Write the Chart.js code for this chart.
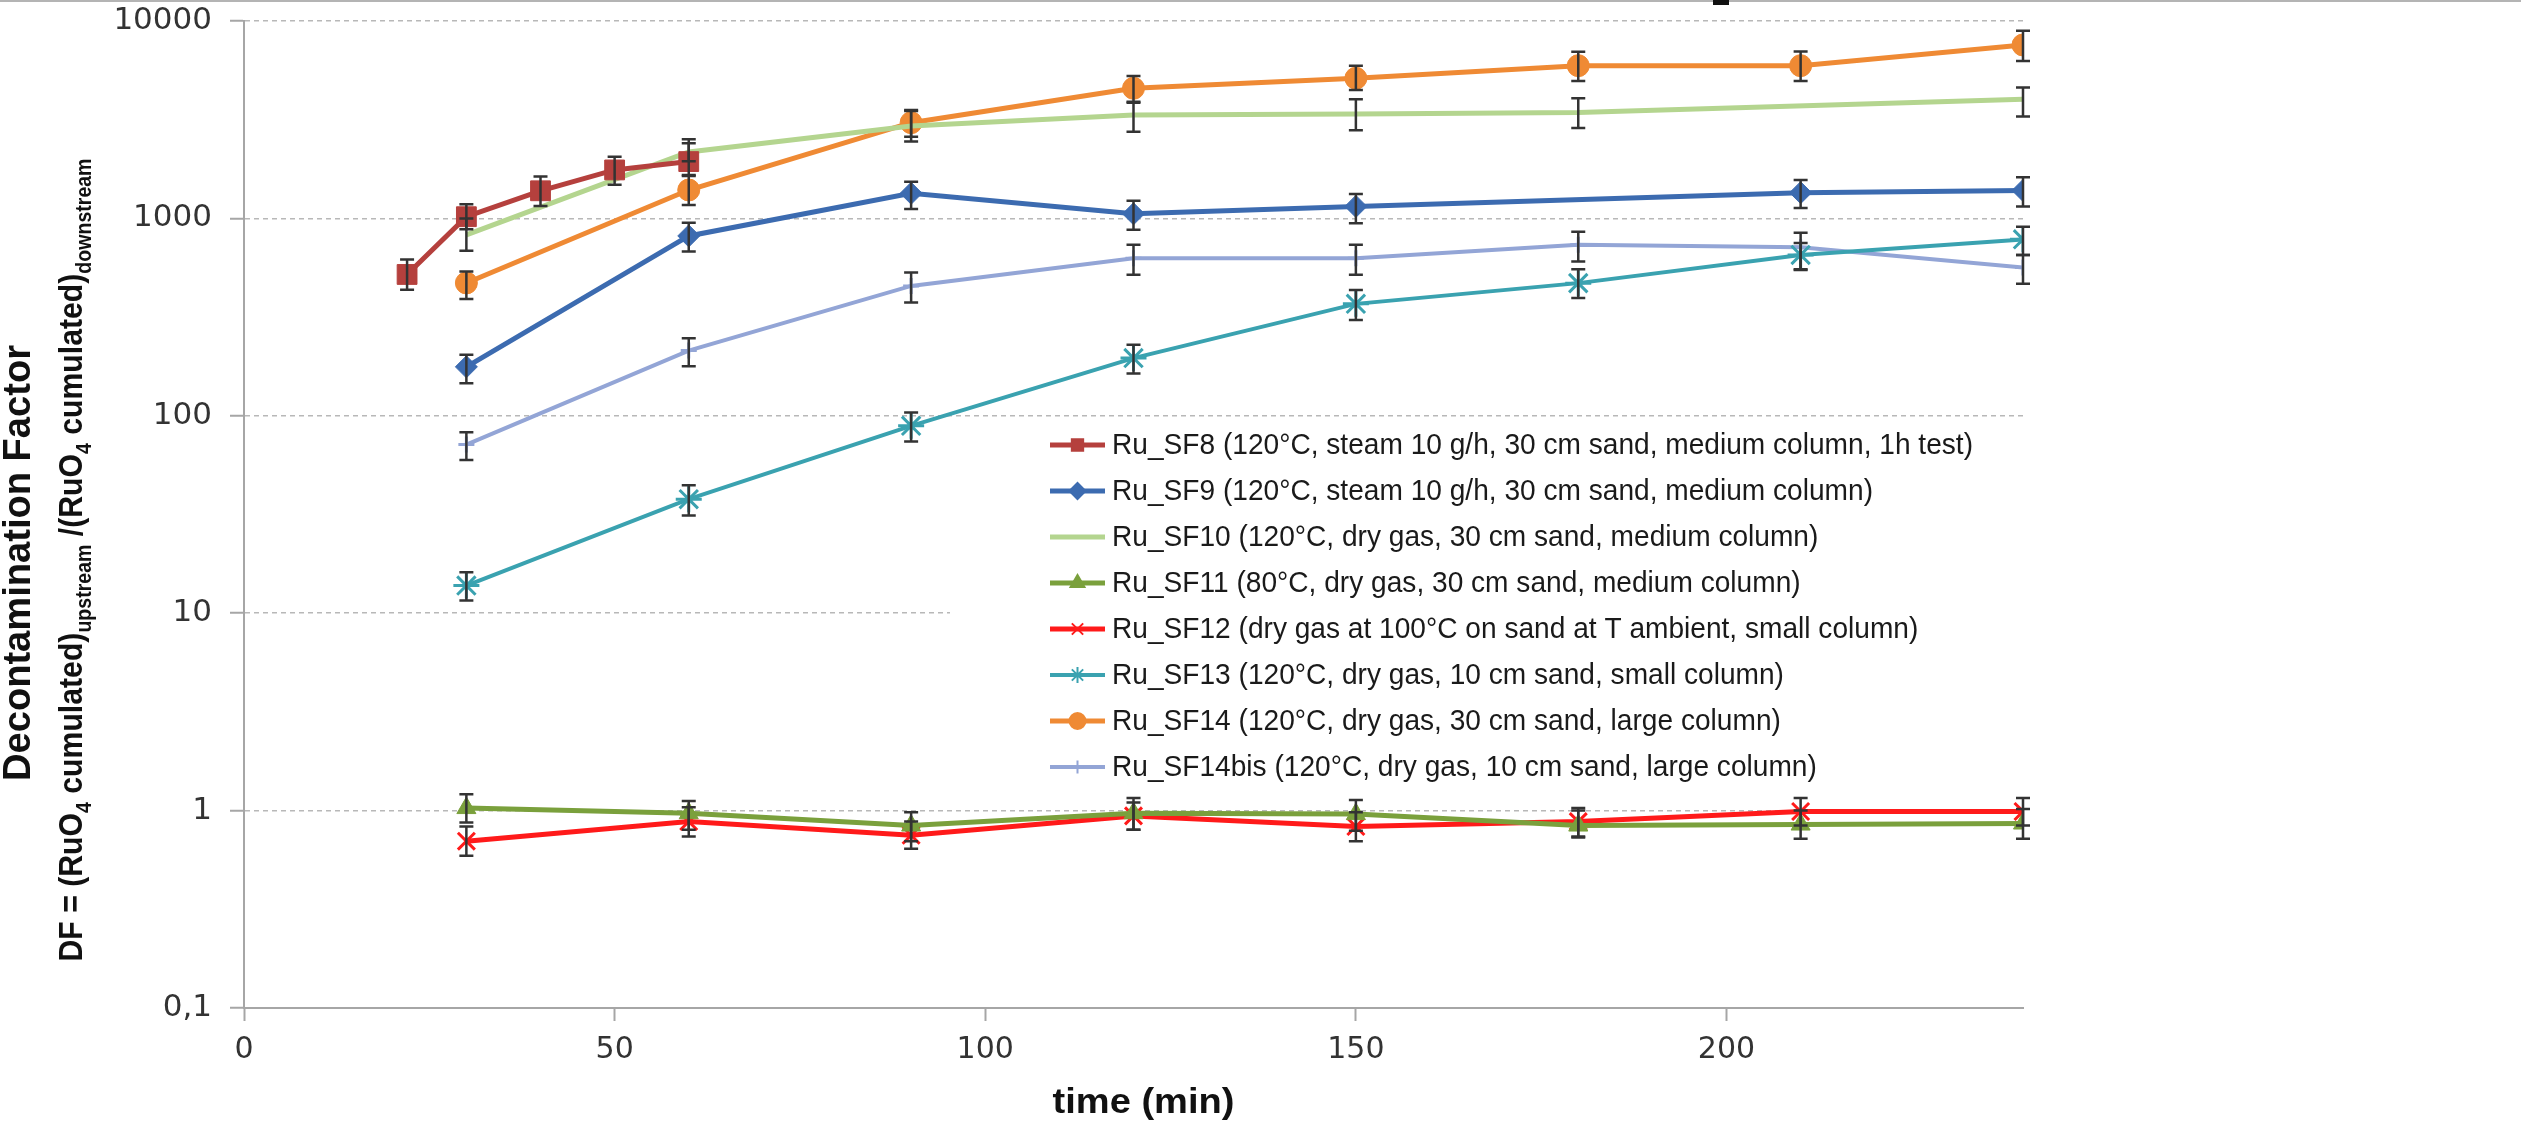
<!DOCTYPE html>
<html>
<head>
<meta charset="utf-8">
<title>Decontamination Factor vs time</title>
<script src="https://cdn.jsdelivr.net/npm/chart.js@4.4.0/dist/chart.umd.min.js"></script>
<style>
    html, body { margin: 0; padding: 0; background: #fff; }
    #wrap { position: relative; width: 2521px; height: 1125px; }
    #wrap canvas { display: block; }
    #topLine { position: absolute; left: 0; top: 0; width: 2521px; height: 2px; background: #b4b4b4; }
    #topMark { position: absolute; left: 1713px; top: 0; width: 16px; height: 5px; background: #111; }
</style>
</head>
<body>
<div id="wrap">
    <canvas id="dfChart" width="2521" height="1125"></canvas>
    <div id="topLine"></div>
    <div id="topMark"></div>
</div>
<script>
// =====================
// Data
// =====================
const timeSF8 = [22, 30, 40, 50, 60];
const dfSF8 = [520, 1020, 1380, 1760, 1940];
const loSF8 = [435, 880, 1155, 1480, 1660];
const hiSF8 = [620, 1180, 1630, 2055, 2520];

const timeSF9 = [30, 60, 90, 120, 150, 210, 240];
const dfSF9 = [177, 815, 1340, 1055, 1150, 1350, 1385];
const loSF9 = [146, 680, 1115, 875, 946, 1128, 1148];
const hiSF9 = [204, 950, 1535, 1227, 1330, 1567, 1617];

const timeSF10 = [30, 60, 90, 120, 150, 180, 240];
const dfSF10 = [825, 2170, 2940, 3340, 3380, 3440, 4020];
const loSF10 = [685, 1950, 2450, 2750, 2800, 2870, 3280];
const hiSF10 = [1000, 2400, 3500, 3850, 4020, 4060, 4610];

const timeSF11 = [30, 60, 90, 120, 150, 180, 210, 240];
const dfSF11 = [1.03, 0.97, 0.84, 0.97, 0.96, 0.84, 0.85, 0.86];
const loSF11 = [0.87, 0.80, 0.70, 0.80, 0.79, 0.73, 0.72, 0.72];
const hiSF11 = [1.21, 1.12, 0.98, 1.16, 1.13, 1.00, 1.00, 1.02];

const timeSF12 = [30, 60, 90, 120, 150, 180, 210, 240];
const dfSF12 = [0.70, 0.88, 0.75, 0.94, 0.83, 0.88, 0.99, 0.99];
const loSF12 = [0.59, 0.74, 0.64, 0.80, 0.70, 0.74, 0.84, 0.84];
const hiSF12 = [0.83, 1.04, 0.88, 1.10, 0.98, 1.03, 1.16, 1.16];

const timeSF13 = [30, 60, 90, 120, 150, 180, 210, 240];
const dfSF13 = [13.8, 37.8, 89, 196, 369, 470, 653, 783];
const loSF13 = [11.6, 31.3, 74, 164, 306, 395, 548, 653];
const hiSF13 = [16.1, 44.5, 104, 229, 434, 553, 751, 907];

const timeSF14 = [30, 60, 90, 120, 150, 180, 210, 240];
const dfSF14 = [471, 1393, 3055, 4560, 5130, 5940, 5940, 7560];
const loSF14 = [390, 1170, 2590, 3900, 4470, 4970, 4970, 6270];
const hiSF14 = [538, 1640, 3540, 5270, 5940, 6990, 7000, 8930];

const timeSF14bis = [30, 60, 90, 120, 150, 180, 210, 240];
const dfSF14bis = [71.5, 214, 455, 629, 629, 735, 715, 564];
const loSF14bis = [59.8, 178, 375, 518, 518, 604, 553, 466];
const hiSF14bis = [82.6, 247, 532, 735, 735, 857, 847, 653];

const seriesLabels = [
    'Ru_SF8 (120°C, steam 10 g/h, 30 cm sand, medium column, 1h test)',
    'Ru_SF9 (120°C, steam 10 g/h, 30 cm sand, medium column)',
    'Ru_SF10 (120°C, dry gas, 30 cm sand, medium column)',
    'Ru_SF11 (80°C, dry gas, 30 cm sand, medium column)',
    'Ru_SF12 (dry gas at 100°C on sand at T ambient, small column)',
    'Ru_SF13 (120°C, dry gas, 10 cm sand, small column)',
    'Ru_SF14 (120°C, dry gas, 30 cm sand, large column)',
    'Ru_SF14bis (120°C, dry gas, 10 cm sand, large column)'
];

const yTicks = [0.1, 1, 10, 100, 1000, 10000];
const xMin = 0, xMax = 240, xStep = 50;

// style per series (same order as labels)
const seriesStyle = [
    { color: '#b5403d', marker: 'rect',     radius: 14, width: 5 },
    { color: '#3c6bb0', marker: 'rectRot',  radius: 11, width: 5 },
    { color: '#b4d58f', marker: false,      radius: 0,  width: 5 },
    { color: '#7aa03c', marker: 'triangle', radius: 11, width: 5 },
    { color: '#ff1a1a', marker: 'crossRot', radius: 12, width: 5 },
    { color: '#3aa2b0', marker: 'star',     radius: 13, width: 4 },
    { color: '#ef8a34', marker: 'circle',   radius: 11, width: 5 },
    { color: '#93a5d6', marker: 'cross',    radius: 8,  width: 4 }
];

const seriesData = [
    [timeSF8, dfSF8, loSF8, hiSF8],
    [timeSF9, dfSF9, loSF9, hiSF9],
    [timeSF10, dfSF10, loSF10, hiSF10],
    [timeSF11, dfSF11, loSF11, hiSF11],
    [timeSF12, dfSF12, loSF12, hiSF12],
    [timeSF13, dfSF13, loSF13, hiSF13],
    [timeSF14, dfSF14, loSF14, hiSF14],
    [timeSF14bis, dfSF14bis, loSF14bis, hiSF14bis]
];

// =====================
// Helpers
// =====================
const LEG = { boxLeft: 950, boxTop: 421, boxBottom: 794, lineX0: 1050, lineX1: 1105, textX: 1112, row0: 445, rowGap: 46, textWidth: 861 };

// draw a run of text segments (with optional subscripts) squeezed to a given length
function drawFitted(ctx, segs, length) {
    let total = 0;
    segs.forEach(s => { ctx.font = s.font; total += ctx.measureText(s.t).width; });
    ctx.save();
    ctx.scale(length / total, 1);
    let cx = -total / 2;
    segs.forEach(s => {
        ctx.font = s.font;
        ctx.fillText(s.t, cx, s.dy || 0);
        cx += ctx.measureText(s.t).width;
    });
    ctx.restore();
}

// =====================
// Plugins
// =====================
const legendBox = {
    id: 'legendBox',
    beforeDatasetsDraw(chart) {
        const { ctx, chartArea } = chart;
        ctx.save();
        ctx.fillStyle = '#fff';
        ctx.fillRect(LEG.boxLeft, LEG.boxTop, chartArea.right - LEG.boxLeft + 2, LEG.boxBottom - LEG.boxTop);
        ctx.restore();
    },
    afterDatasetsDraw(chart) {
        const ctx = chart.ctx;
        ctx.save();
        ctx.font = '29px "Liberation Sans", Arial, sans-serif';
        const sx = LEG.textWidth / ctx.measureText(seriesLabels[0]).width;
        seriesLabels.forEach((label, i) => {
            const st = seriesStyle[i];
            const y = LEG.row0 + i * LEG.rowGap;
            ctx.strokeStyle = st.color;
            ctx.lineWidth = st.width;
            ctx.beginPath();
            ctx.moveTo(LEG.lineX0, y);
            ctx.lineTo(LEG.lineX1, y);
            ctx.stroke();
            if (st.marker) {
                ctx.fillStyle = st.color;
                ctx.lineWidth = 2;
                Chart.helpers.drawPoint(ctx, { pointStyle: st.marker, radius: Math.min(st.radius, 10) * 0.8, rotation: 0, borderWidth: 2 }, (LEG.lineX0 + LEG.lineX1) / 2, y);
            }
            ctx.save();
            ctx.translate(LEG.textX, y);
            ctx.scale(sx, 1);
            ctx.fillStyle = '#1a1a1a';
            ctx.textBaseline = 'middle';
            ctx.textAlign = 'left';
            ctx.fillText(label, 0, 1);
            ctx.restore();
        });
        ctx.restore();
    }
};

const errorBars = {
    id: 'errorBars',
    afterDatasetsDraw(chart) {
        const { ctx, scales: { x, y } } = chart;
        ctx.save();
        ctx.strokeStyle = '#333';
        ctx.lineWidth = 2.5;
        chart.data.datasets.forEach(ds => {
            ds.errLow.forEach((lo, i) => {
                const px = x.getPixelForValue(ds.data[i].x);
                const top = y.getPixelForValue(ds.errHigh[i]);
                const bot = y.getPixelForValue(lo);
                ctx.beginPath();
                ctx.moveTo(px, top); ctx.lineTo(px, bot);
                ctx.moveTo(px - 7, top); ctx.lineTo(px + 7, top);
                ctx.moveTo(px - 7, bot); ctx.lineTo(px + 7, bot);
                ctx.stroke();
            });
        });
        ctx.restore();
    }
};

const axisTitles = {
    id: 'axisTitles',
    afterDraw(chart) {
        const { ctx, chartArea } = chart;
        const bold = size => 'bold ' + size + 'px "Liberation Sans", Arial, sans-serif';
        ctx.save();
        ctx.fillStyle = '#111';
        ctx.textBaseline = 'alphabetic';

        // y title, line 1
        ctx.save();
        ctx.translate(30, 563);
        ctx.rotate(-Math.PI / 2);
        drawFitted(ctx, [{ t: 'Decontamination Factor', font: bold(38) }], 436);
        ctx.restore();

        // y title, line 2 (with subscripts)
        ctx.save();
        ctx.translate(82, 560);
        ctx.rotate(-Math.PI / 2);
        const main = bold(34), sub = bold(22);
        drawFitted(ctx, [
            { t: 'DF = (RuO', font: main },
            { t: '4', font: sub, dy: 9 },
            { t: ' cumulated)', font: main },
            { t: 'upstream', font: sub, dy: 9 },
            { t: ' /(RuO', font: main },
            { t: '4', font: sub, dy: 9 },
            { t: ' cumulated)', font: main },
            { t: 'downstream', font: sub, dy: 9 }
        ], 803);
        ctx.restore();

        // x title
        ctx.save();
        ctx.translate((chartArea.left + chartArea.right) / 2 + 10, 1113);
        drawFitted(ctx, [{ t: 'time (min)', font: bold(35) }], 182);
        ctx.restore();

        ctx.restore();
    }
};

// =====================
// Build chart
// =====================
function initChart() {
    const datasets = seriesData.map(([t, v, lo, hi], i) => {
        const st = seriesStyle[i];
        return {
            label: seriesLabels[i],
            data: t.map((x, k) => ({ x: x, y: v[k] })),
            errLow: lo,
            errHigh: hi,
            borderColor: st.color,
            backgroundColor: st.color,
            borderWidth: st.width,
            pointStyle: st.marker || 'circle',
            pointRadius: st.radius,
            pointBackgroundColor: st.color,
            pointBorderColor: st.color,
            pointBorderWidth: st.marker === 'crossRot' || st.marker === 'star' || st.marker === 'cross' ? 3 : 1,
            tension: 0,
            fill: false
        };
    });

    const tickColor = '#333';
    const axisColor = '#a6a6a6';

    new Chart(document.getElementById('dfChart').getContext('2d'), {
        type: 'line',
        data: { datasets: datasets },
        options: {
            responsive: false,
            animation: false,
            layout: { padding: { left: 0, top: 21, right: 498, bottom: 0 } },
            plugins: { legend: { display: false }, tooltip: { enabled: false } },
            scales: {
                x: {
                    type: 'linear',
                    min: xMin,
                    max: xMax,
                    ticks: { stepSize: xStep, includeBounds: false, maxRotation: 0, padding: 11, color: tickColor, font: { family: 'DejaVu Sans', size: 30 } },
                    grid: { drawOnChartArea: false, drawTicks: true, tickLength: 13, tickColor: axisColor, tickWidth: 2 },
                    border: { color: axisColor, width: 2 },
                    afterFit: s => { s.height = 117; s.paddingLeft = 0; s.paddingRight = 0; }
                },
                y: {
                    type: 'logarithmic',
                    min: yTicks[0],
                    max: yTicks[yTicks.length - 1],
                    afterBuildTicks: s => { s.ticks = yTicks.map(v => ({ value: v })); },
                    ticks: {
                        autoSkip: false,
                        padding: 18,
                        color: tickColor,
                        font: { family: 'DejaVu Sans', size: 31 },
                        callback: v => String(v).replace('.', ',')
                    },
                    grid: { color: '#b8b8b8', lineWidth: 1.5, tickLength: 14, tickColor: axisColor, tickWidth: 2 },
                    border: { color: axisColor, width: 2, dash: [5, 4] },
                    afterFit: s => { s.width = 244; s.paddingTop = 0; s.paddingBottom = 0; }
                }
            }
        },
        plugins: [legendBox, errorBars, axisTitles]
    });
}

window.onload = initChart;
</script>
</body>
</html>
